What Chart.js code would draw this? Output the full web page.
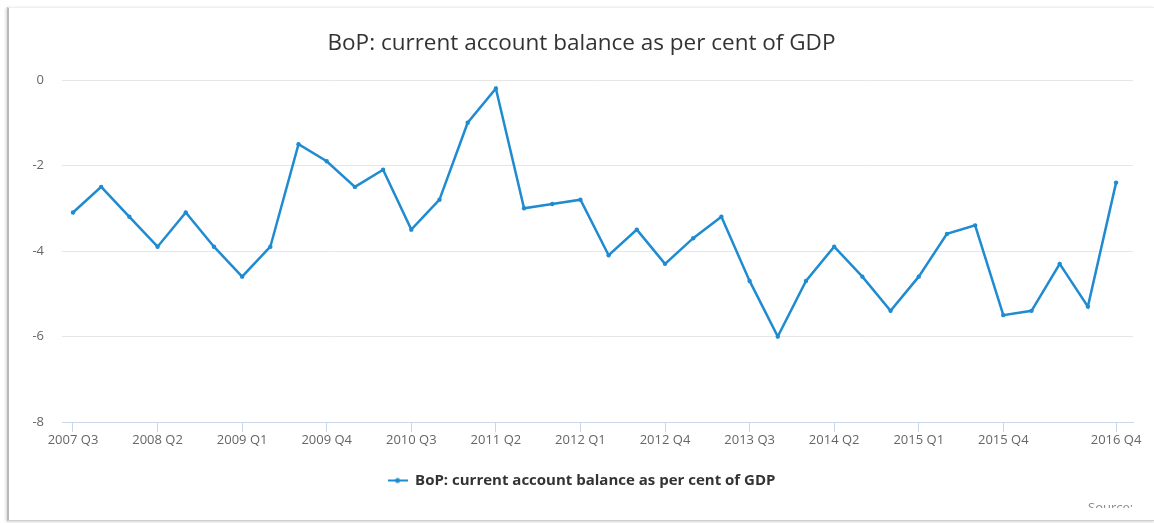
<!DOCTYPE html>
<html>
<head>
<meta charset="utf-8">
<script src="https://cdn.jsdelivr.net/npm/chart.js@4/dist/chart.umd.min.js"></script>
<style>
  html, body { margin: 0; padding: 0; background: #fff; }
  body { width: 1154px; height: 523px; position: relative; overflow: hidden; font-family: 'Open Sans', sans-serif; }
  .card {
    position: absolute; left: 7px; top: 7px; width: 1145px; height: 512px;
    background: #fff;
    border-left: 2px solid #b9b9b9;
    border-top: 1px solid #eeeeee;
    border-right: 1px solid #eeeeee;
    border-bottom: 1px solid #cfcfcf;
    box-shadow: -1px 1px 3px rgba(0,0,0,0.18);
  }
  #chart { position: absolute; left: 0; top: 0; }
  .source {
    position: absolute; left: 1088px; top: 496px; height: 12px; width: 60px;
    overflow: hidden; color: #8a8a8a; font-size: 13px; line-height: 22px;
  }
</style>
</head>
<body>
<div class="card"></div>
<canvas id="chart" width="1154" height="523"></canvas>
<div class="source">Source:</div>
<script>
const seriesName = 'BoP: current account balance as per cent of GDP';

const quarters = [
  '2007 Q3', '2007 Q4', '2008 Q1', '2008 Q2', '2008 Q3', '2008 Q4',
  '2009 Q1', '2009 Q2', '2009 Q3', '2009 Q4', '2010 Q1', '2010 Q2',
  '2010 Q3', '2010 Q4', '2011 Q1', '2011 Q2', '2011 Q3', '2011 Q4',
  '2012 Q1', '2012 Q2', '2012 Q3', '2012 Q4', '2013 Q1', '2013 Q2',
  '2013 Q3', '2013 Q4', '2014 Q1', '2014 Q2', '2014 Q3', '2014 Q4',
  '2015 Q1', '2015 Q2', '2015 Q3', '2015 Q4', '2016 Q1', '2016 Q2',
  '2016 Q3', '2016 Q4'
];

const balance = [
  -3.1, -2.5, -3.2, -3.9, -3.1, -3.9,
  -4.6, -3.9, -1.5, -1.9, -2.5, -2.1,
  -3.5, -2.8, -1.0, -0.2, -3.0, -2.9,
  -2.8, -4.1, -3.5, -4.3, -3.7, -3.2,
  -4.7, -6.0, -4.7, -3.9, -4.6, -5.4,
  -4.6, -3.6, -3.4, -5.5, -5.4, -4.3,
  -5.3, -2.4
];

const xTickLabels = [
  '2007 Q3', '2008 Q2', '2009 Q1', '2009 Q4', '2010 Q3', '2011 Q2',
  '2012 Q1', '2012 Q4', '2013 Q3', '2014 Q2', '2015 Q1', '2015 Q4',
  '2016 Q4'
];

const yTicks = [0, -2, -4, -6, -8];

const lineColor = '#1f8bd0';

// legend symbol: short line with a dot in the middle
const legendSymbol = document.createElement('canvas');
legendSymbol.width = 20; legendSymbol.height = 8;
(function () {
  const c = legendSymbol.getContext('2d');
  c.strokeStyle = lineColor; c.lineWidth = 2;
  c.beginPath(); c.moveTo(0, 4); c.lineTo(20, 4); c.stroke();
  c.fillStyle = lineColor;
  c.beginPath(); c.arc(10, 4, 2.5, 0, Math.PI * 2); c.fill();
})();

// quarters are placed on a numeric axis by their index, with a little room at both ends
const points = balance.map((v, i) => ({ x: i, y: v }));
const xTickIndexes = xTickLabels.map(q => quarters.indexOf(q));

new Chart(document.getElementById('chart'), {
  type: 'line',
  data: {
    datasets: [{
      label: seriesName,
      data: points,
      borderColor: lineColor,
      backgroundColor: lineColor,
      borderWidth: 2.5,
      pointRadius: 2.2,
      pointBorderWidth: 0,
      pointBackgroundColor: lineColor,
      tension: 0,
      fill: false
    }]
  },
  options: {
    responsive: false,
    animation: false,
    layout: { padding: { left: 30, right: 21, top: 0, bottom: 25 } },
    plugins: {
      title: {
        display: true,
        text: seriesName,
        color: '#333333',
        font: { family: 'Open Sans', size: 22.5, weight: 'normal' },
        padding: { top: 30, bottom: 23 }
      },
      legend: {
        display: true,
        position: 'bottom',
        labels: {
          usePointStyle: true,
          pointStyle: legendSymbol,
          pointStyleWidth: 20,
          color: '#333333',
          font: { family: 'Open Sans', size: 15, weight: 'bold' },
          padding: 10
        }
      },
      tooltip: { enabled: false }
    },
    scales: {
      x: {
        type: 'linear',
        min: -0.39,
        max: quarters.length - 1 + 0.6,
        afterBuildTicks: (scale) => { scale.ticks = xTickIndexes.map(v => ({ value: v })); },
        afterFit: (scale) => { scale.height = 41; },
        border: { display: true, color: '#ccd6eb', width: 1 },
        grid: {
          drawOnChartArea: false,
          drawTicks: true,
          tickLength: 10,
          color: '#ccd6eb'
        },
        ticks: {
          autoSkip: false,
          maxRotation: 0,
          minRotation: 0,
          padding: 0,
          color: '#666666',
          font: { family: 'Open Sans', size: 13 },
          callback: (value) => quarters[value]
        }
      },
      y: {
        min: Math.min(...yTicks),
        max: Math.max(...yTicks),
        afterBuildTicks: (scale) => { scale.ticks = yTicks.slice().reverse().map(v => ({ value: v })); },
        afterFit: (scale) => { scale.width = 32; },
        border: { display: false },
        grid: {
          drawTicks: false,
          color: (ctx) => ctx.tick && ctx.tick.value === Math.min(...yTicks) ? 'rgba(0,0,0,0)' : '#e6e6e6'
        },
        ticks: {
          padding: 18,
          color: '#666666',
          font: { family: 'Open Sans', size: 13 }
        }
      }
    }
  }
});
</script>
</body>
</html>
